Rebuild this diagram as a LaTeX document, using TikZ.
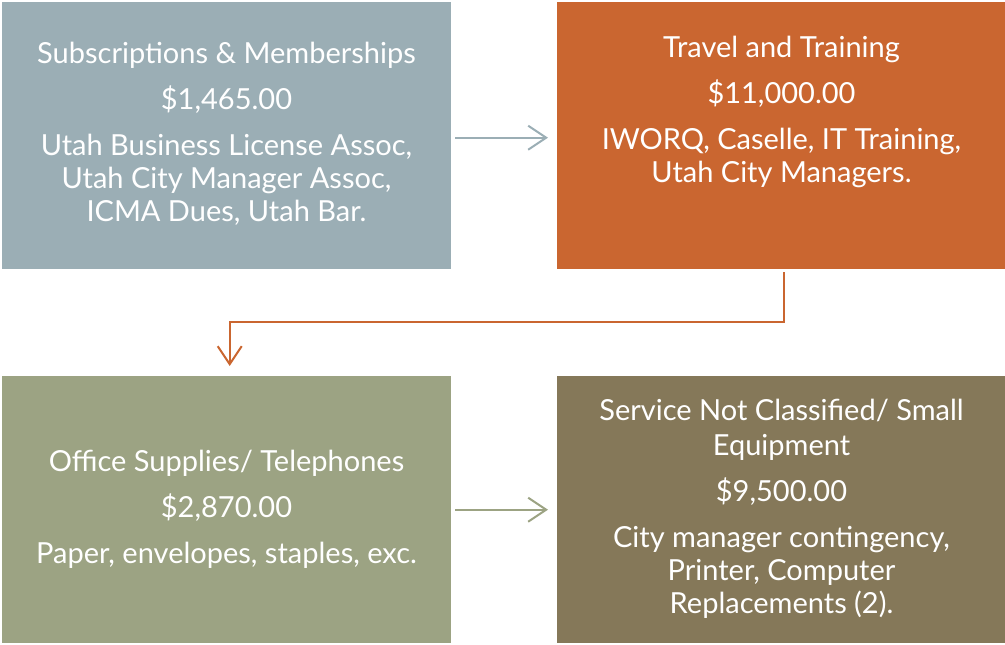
\documentclass[tikz,border=0pt]{standalone}
\usepackage{fontspec}
\setmainfont{Lato}
\usetikzlibrary{arrows.meta}
\definecolor{cA}{HTML}{9BAEB5}
\definecolor{cB}{HTML}{CA6630}
\definecolor{cC}{HTML}{9CA383}
\definecolor{cD}{HTML}{857859}
\begin{document}
\begin{tikzpicture}[x=1pt,y=-1pt,
  box/.style={fill=#1,draw=none,minimum width=449pt,minimum height=267pt,anchor=north west,inner sep=0pt},
  txt/.style={text=white,align=center,font=\fontsize{29}{33}\selectfont,inner sep=0pt},
  conn/.style={draw=#1,line width=2pt,-{Straight Barb[length=18pt,width=24pt,line width=2pt]}}]
\useasboundingbox (0,0) rectangle (1005,645);
\node[box=cA] (b1) at (2,2) {};
\node[box=cB] (b2) at (557,2) {};
\node[box=cC] (b3) at (2,376) {};
\node[box=cD] (b4) at (557,376) {};
\node[txt] (t1) at (226.5,133.5) {Subscriptions \& Memberships\\[13pt] \$1,465.00\\[13pt] Utah Business License Assoc,\\ Utah City Manager Assoc,\\ ICMA Dues, Utah Bar.};
\node[txt] (t2) at (781.5,111.5) {Travel and Training\\[13pt] \$11,000.00\\[13pt] IWORQ, Caselle, IT Training,\\ Utah City Managers.};
\node[txt] (t3) at (226.5,509) {Office Supplies/ Telephones\\[13pt] \$2,870.00\\[13pt] Paper, envelopes, staples, exc.};
\node[txt] (t4) at (781.5,509) {Service Not Classified/ Small\\[2pt] Equipment\\[13pt] \$9,500.00\\[13pt] City manager contingency,\\ Printer, Computer\\ Replacements (2).};
\draw[conn=cA,shorten <=4pt,shorten >=9pt] ([yshift=-2pt]b1.east) -- ([yshift=-2pt]b2.west);
\draw[conn=cB,shorten <=3pt,shorten >=10pt] ([xshift=2pt]b2.south) -- ++(0,53) -| ([xshift=3pt]b3.north);
\draw[conn=cC,shorten <=4pt,shorten >=9pt] (b3.east) -- (b4.west);
\end{tikzpicture}
\end{document}
